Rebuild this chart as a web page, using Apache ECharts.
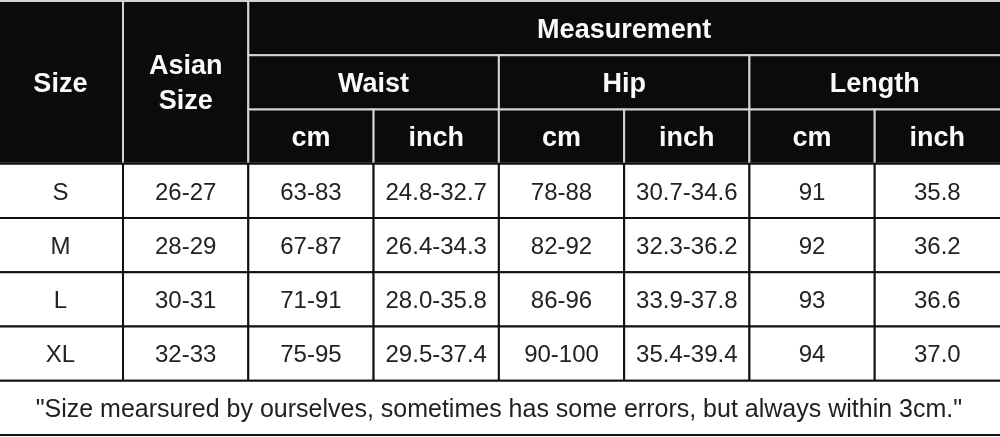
<!DOCTYPE html>
<html>
<head>
<meta charset="utf-8">
<script src="https://cdn.jsdelivr.net/npm/echarts@6/dist/echarts.min.js"></script>
<style>
html,body{margin:0;padding:0;background:#fff;}
#chart{width:1000px;height:437px;}
</style>
</head>
<body>
<div id="chart"></div>
<script>
// ---- data ----
const sizes = ['S', 'M', 'L', 'XL'];
const asianSizes = ['26-27', '28-29', '30-31', '32-33'];
const waistCm = ['63-83', '67-87', '71-91', '75-95'];
const waistInch = ['24.8-32.7', '26.4-34.3', '28.0-35.8', '29.5-37.4'];
const hipCm = ['78-88', '82-92', '86-96', '90-100'];
const hipInch = ['30.7-34.6', '32.3-36.2', '33.9-37.8', '35.4-39.4'];
const lengthCm = ['91', '92', '93', '94'];
const lengthInch = ['35.8', '36.2', '36.6', '37.0'];
const headerSize = 'Size';
const headerAsian = 'Asian\nSize';
const headerTop = 'Measurement';
const groups = ['Waist', 'Hip', 'Length'];
const units = ['cm', 'inch'];
const footnote = '"Size mearsured by ourselves, sometimes has some errors, but always within 3cm."';

// ---- cells (grid units: columns 0..8, rows 0..8) ----
const cells = [];
function add(x0, y0, x1, y1, text, kind) { cells.push({x0, y0, x1, y1, text, kind}); }
add(0, 0, 1, 3, headerSize, 'head');
add(1, 0, 2, 3, headerAsian, 'head');
add(2, 0, 8, 1, headerTop, 'head');
groups.forEach((g, i) => add(2 + i * 2, 1, 4 + i * 2, 2, g, 'head'));
groups.forEach((g, i) => units.forEach((u, j) => add(2 + i * 2 + j, 2, 3 + i * 2 + j, 3, u, 'head')));
const columns = [sizes, asianSizes, waistCm, waistInch, hipCm, hipInch, lengthCm, lengthInch];
sizes.forEach((s, r) => columns.forEach((col, c) => add(c, 3 + r, c + 1, 4 + r, col[r], 'body')));
add(0, 7, 8, 8, footnote, 'foot');

const styles = {
  head: {fill: '#0b0b0b', stroke: '#d4d4d4', color: '#fafafa', font: 'bold 27px "Liberation Sans", Arial, sans-serif'},
  body: {fill: '#ffffff', stroke: '#111111', color: '#222222', font: '24px "Liberation Sans", Arial, sans-serif'},
  foot: {fill: '#ffffff', stroke: '#111111', color: '#222222', font: '25px "Liberation Sans", Arial, sans-serif'}
};

const chart = echarts.init(document.getElementById('chart'), null, {renderer: 'canvas'});
chart.setOption({
  backgroundColor: '#ffffff',
  animation: false,
  grid: {left: 0, right: 0, top: 1, bottom: 2},
  xAxis: {type: 'value', min: 0.018, max: 8, show: false},
  yAxis: {type: 'value', min: 0, max: 8, inverse: true, show: false},
  series: [{
    type: 'custom',
    clip: false,
    encode: {x: [0, 2], y: [1, 3]},
    data: cells.map(c => [c.x0, c.y0, c.x1, c.y1]),
    renderItem: function (params, api) {
      const c = cells[params.dataIndex];
      const p0 = api.coord([api.value(0), api.value(1)]);
      const p1 = api.coord([api.value(2), api.value(3)]);
      const st = styles[c.kind];
      // outer vertical edges have no visible border: push them just off the canvas
      let left = p0[0], right = p1[0];
      if (c.x0 <= 0) left -= 4;
      if (c.x1 >= 8) right += 4;
      return {
        type: 'group',
        children: [
          {type: 'rect', shape: {x: left, y: p0[1], width: right - left, height: p1[1] - p0[1]},
           style: {fill: st.fill, stroke: st.stroke, lineWidth: 2}},
          {type: 'text', x: (p0[0] + p1[0]) / 2, y: (p0[1] + p1[1]) / 2 + 2,
           style: {text: c.text, fill: st.color, font: st.font, align: 'center', verticalAlign: 'middle', lineHeight: 35}}
        ]
      };
    }
  }]
});
</script>
</body>
</html>
